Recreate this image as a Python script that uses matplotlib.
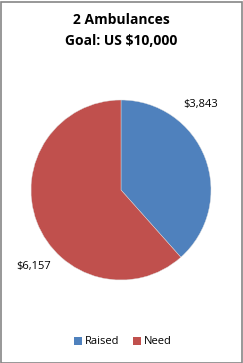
import matplotlib
matplotlib.use("Agg")
import matplotlib.pyplot as plt
from matplotlib.patches import Rectangle

categories = ["Raised", "Need"]
values = [3843, 6157]
colors = ["#4F81BD", "#C0504D"]
title_lines = ["2 Ambulances", "Goal: US $10,000"]

plt.rcParams['font.family'] = ['Open Sans', 'DejaVu Sans']

W, H = 243, 363
fig = plt.figure(figsize=(W/100, H/100), dpi=100)
fig.patch.set_facecolor("white")

# border
fig.add_artist(Rectangle((0.5/W, 0.5/H), 1 - 2/W, 1 - 2/H, transform=fig.transFigure,
                         fill=False, edgecolor="#868686", linewidth=1.2))

fig.text(121/W, 1 - 20/H, title_lines[0], ha="center", va="center", fontsize=10, fontweight="bold")
fig.text(121/W, 1 - 41/H, title_lines[1], ha="center", va="center", fontsize=10, fontweight="bold")

ax = fig.add_axes([31/W, 83/H, 180/W, 180/H])
wedges, _ = ax.pie(values, colors=colors, startangle=90, counterclock=False,
                   wedgeprops=dict(linewidth=0.3, edgecolor="#dddddd"))
ax.set_xlim(-1, 1)
ax.set_ylim(-1, 1)
ax.set_aspect("equal")

label_pos = [(201/W, 1 - 105/H), (34/W, 1 - 266/H)]
for v, (x, y) in zip(values, label_pos):
    fig.text(x, y, f"${v:,}", ha="center", va="center", fontsize=8)

handles = [Rectangle((0, 0), 1, 1, facecolor=c) for c in colors]
fig.legend(handles, categories, loc="center", bbox_to_anchor=(123/W, 21/H), ncol=2,
           frameon=False, fontsize=8, handlelength=0.7, handleheight=0.7,
           handletextpad=0.3, columnspacing=1.2)

fig.savefig("out.png", dpi=100)
